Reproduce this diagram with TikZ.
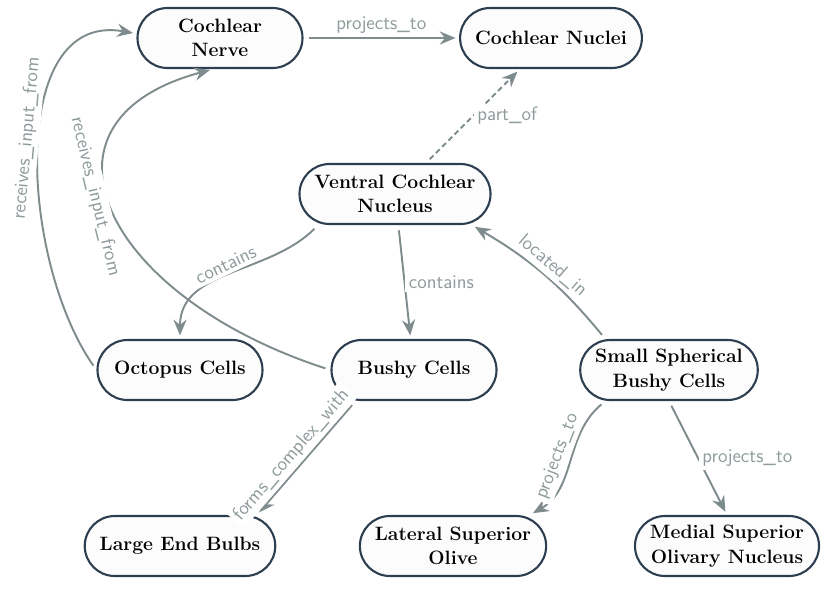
\documentclass[tikz,border=0pt]{standalone}
\usepackage{fontspec}
\usepackage{tikz}
\usetikzlibrary{arrows.meta,positioning}
\definecolor{nodeline}{HTML}{2C3E50}
\definecolor{nodefill}{HTML}{FCFCFC}
\definecolor{edgegray}{HTML}{7F8C8D}
\definecolor{labelgray}{HTML}{8E9A9B}

\begin{document}
\begin{tikzpicture}[conceptnode/.style={rectangle, rounded corners=0.6cm, draw=nodeline, fill=nodefill, very thick, minimum width=3.3cm, minimum height=1.2cm, inner xsep=0.3cm, align=center, font=\fontsize{11}{14}\selectfont\bfseries},
        edgelabel/.style={font=\fontsize{11}{13}\selectfont\sffamily, text=labelgray, fill=white, inner sep=2pt}]
        \useasboundingbox (0, 0) rectangle (16.66, 12.08);
        \node [conceptnode] at (4.40, 11.32)  (nerve)   {Cochlear\\Nerve};
        \node [conceptnode] at (11.02, 11.32) (nuclei)  {Cochlear Nuclei};
        \node [conceptnode] at (7.90, 8.20)   (vcn)     {Ventral Cochlear\\Nucleus};
        \node [conceptnode] at (3.60, 4.68)   (octopus) {Octopus Cells};
        \node [conceptnode] at (8.28, 4.68)   (bushy)   {Bushy Cells};
        \node [conceptnode] at (13.38, 4.68)  (ssbc)    {Small Spherical\\Bushy Cells};
        \node [conceptnode] at (3.60, 1.16)   (bulbs)   {Large End Bulbs};
        \node [conceptnode] at (9.06, 1.16)   (lso)     {Lateral Superior\\Olive};
        \node [conceptnode] at (14.54, 1.16)  (mso)     {Medial Superior\\Olivary Nucleus};
        \path[every edge/.append style={line width=1.1pt, draw=edgegray,
                -{Stealth[length=9pt, width=7.5pt, inset=3pt]}, shorten <=3pt, shorten >=2pt},
                every node/.style={edgelabel}]
            (nerve) edge node[above] {projects\_to} (nuclei)
            (vcn) edge[densely dashed] node[right] {part\_of} (nuclei)
            (vcn.202) edge[out=-135, in=90] node[sloped, above] {contains} (octopus.north)
            (vcn) edge node[right] {contains} (bushy)
            (ssbc.154) edge[bend right=10] node[sloped, above] {located\_in} (vcn.-22)
            (octopus.west) edge[out=125, in=170] node[pos=0.53, sloped, above] {receives\_input\_from} (nerve.177)
            (bushy.west) edge[out=162, in=195, out distance=4.8cm, in distance=4cm] node[pos=0.55, sloped, below] {receives\_input\_from} (nerve.258)
            (bushy.208) edge node[pos=0.55, sloped, above] {forms\_complex\_with} (bulbs.22)
            (ssbc.206) edge[out=-140, in=30] node[sloped, above] {projects\_to} (lso.22)
            (ssbc.south) edge node[right] {projects\_to} (mso.north);
\end{tikzpicture}
\end{document}
